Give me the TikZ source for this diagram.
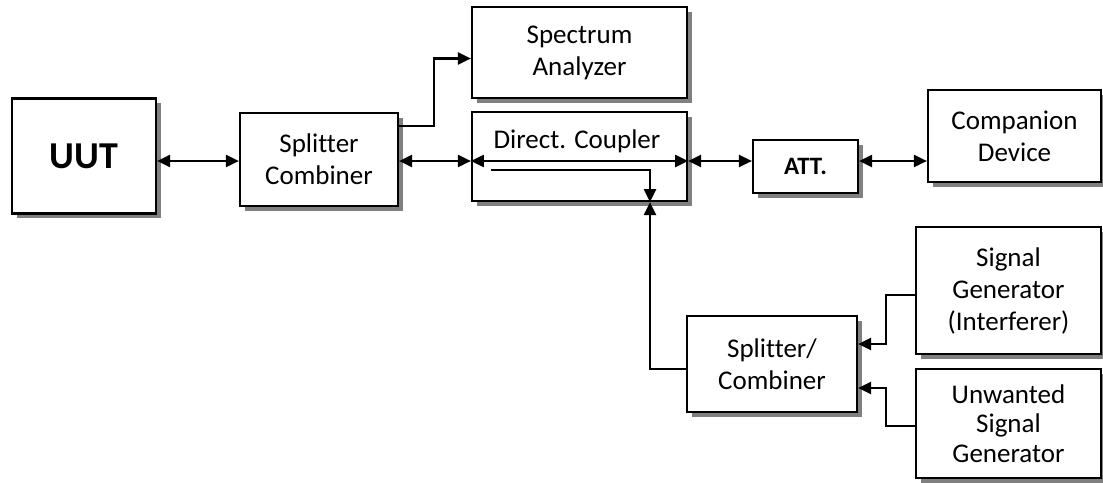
\documentclass[tikz,border=0pt]{standalone}
\usepackage{fontspec}
\setmainfont{Carlito}[Ligatures={NoCommon}]
\usetikzlibrary{arrows.meta,shadows}
\tikzset{
  blk/.style={draw=black, line width=2.2pt, fill=white, inner sep=0pt, align=center,
    font=\fontsize{27}{32}\selectfont,
    drop shadow={shadow xshift=4.5pt, shadow yshift=-4.5pt, fill=black!50, opacity=1}},
  wire/.style={line width=2.2pt, draw=black},
  tip/.style={wire, -{Triangle[length=13pt,width=12pt]}},
  dtip/.style={wire, {Triangle[length=13pt,width=12pt]}-{Triangle[length=13pt,width=12pt]}}
}
\begin{document}
\begin{tikzpicture}[x=1pt,y=-1pt]
\useasboundingbox (0,0) rectangle (1103,482);

% blocks
\node[blk, minimum width=144pt, minimum height=115pt, font=\fontsize{38}{44}\selectfont\bfseries] (uut) at (84,156) {UUT};
\node[blk, minimum width=158pt, minimum height=93pt] (sc1) at (319,159.5) {Splitter\\Combiner};
\node[blk, minimum width=215pt, minimum height=91pt] (sa) at (579.5,52.5) {Spectrum\\Analyzer};
\node[blk, minimum width=215pt, minimum height=89pt] (dc) at (579.5,156.5) {};
\node[font=\fontsize{27}{32}\selectfont, inner sep=0pt] (dct) at (577,141) {Direct. Coupler};
\node[blk, minimum width=105pt, minimum height=53pt, font=\fontsize{25}{30}\selectfont\bfseries] (att) at (805.5,166.5) {\raisebox{-5pt}{ATT.}};
\node[blk, minimum width=173pt, minimum height=92pt] (cd) at (1014.5,136) {Companion\\Device};
\node[blk, minimum width=185pt, minimum height=127pt] (sg1) at (1008.5,290.5) {Signal\\Generator\\(Interferer)};
\node[blk, minimum width=170pt, minimum height=96pt] (sc2) at (772,364) {Splitter/\\Combiner};
\node[blk, minimum width=185pt, minimum height=109pt, font=\fontsize{27}{29.5}\selectfont] (sg2) at (1008.5,423.5) {Unwanted\\Signal\\Generator};

% reference points
\coordinate (bus) at (0,161);
\coordinate (cpl) at (491,170);
\coordinate (tap) at (650,170);

% main through path
\draw[dtip] (uut.east |- bus) -- (sc1.west |- bus);
\draw[dtip] (sc1.east |- bus) -- (dc.west |- bus);
\draw[dtip] (dc.west |- bus) -- (dc.east |- bus);
\draw[dtip] (dc.east |- bus) -- (att.west |- bus);
\draw[dtip] (att.east |- bus) -- (cd.west |- bus);

% monitor branch to the analyzer
\draw[tip] ([yshift=-14pt]sc1.north east) -- ++(35pt,0) |- ([yshift=-6pt]sa.west);

% coupled port inside the coupler
\draw[tip] (cpl) -- (tap) -- (tap |- dc.south);

% injection path from the generators
\draw[tip] ([yshift=-5pt]sc2.west) -| (tap |- dc.south);
\draw[tip] ([yshift=-4.5pt]sg1.west) -- ++(-29pt,0) |- ([yshift=20pt]sc2.east);
\draw[tip] ([yshift=-2.5pt]sg2.west) -- ++(-29pt,0) |- ([yshift=-24pt]sc2.east);
\end{tikzpicture}
\end{document}
